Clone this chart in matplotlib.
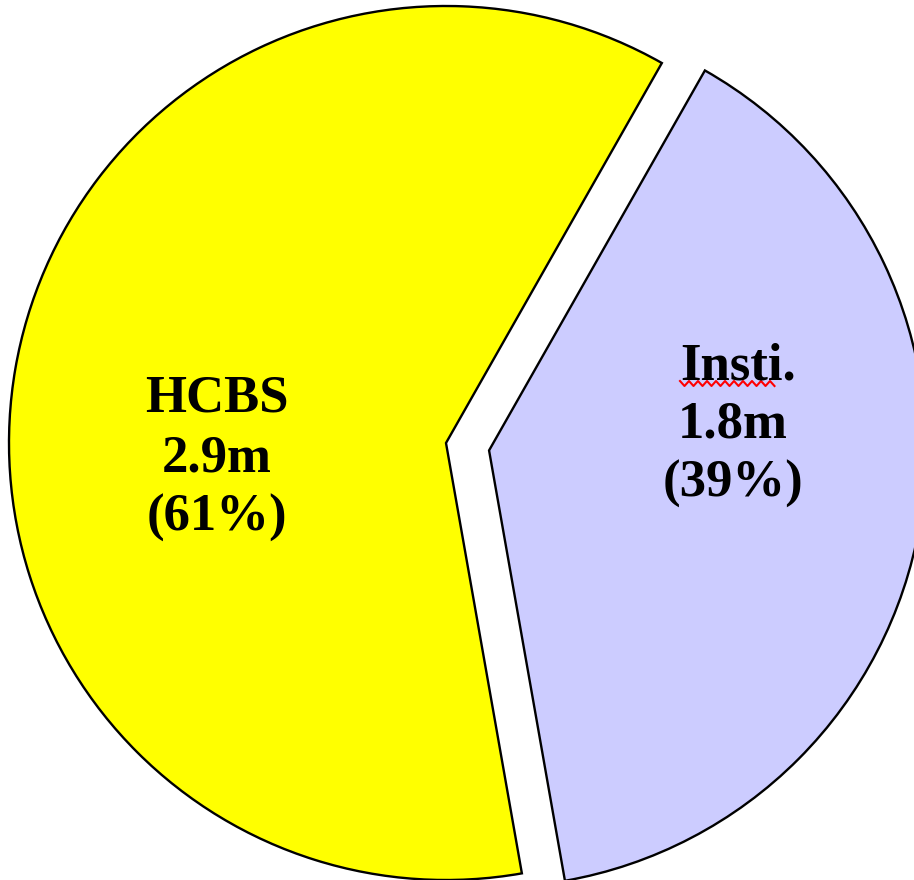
import numpy as np
import matplotlib
matplotlib.use("Agg")
import matplotlib.pyplot as plt

categories = ["HCBS", "Insti."]
amounts = ["2.9m", "1.8m"]
shares = [61, 39]
colors = ["#FFFF00", "#CCCCFF"]
explode = [0.0, 0.1]

W, H = 914, 880
fig = plt.figure(figsize=(W / 100, H / 100), dpi=100)
ax = fig.add_axes([0, 0, 1, 1])

R = 437.0  # pixels per data unit
cx, cy = 446.0, 443.0  # pie centre in pixels (from top)

wedges, _ = ax.pie(shares, colors=colors, explode=explode, startangle=60.4,
                   counterclock=True, radius=1.0,
                   wedgeprops=dict(edgecolor="black", linewidth=1.7, joinstyle="miter"))
ax.axis("off")
ax.set_xlim(-cx / R, (W - cx) / R)
ax.set_ylim(-(H - cy) / R, cy / R)
ax.set_aspect("equal")

font = dict(family=["Liberation Serif", "DejaVu Serif"], fontweight="bold",
            fontsize=38, color="black", ha="center", va="center")

# label line centres, in pixels
label_x = [217, 733]
label_y = [[399, 459, 518], [367, 425, 484]]

def px2data(x, y):
    return (x - cx) / R, (cy - y) / R

for i in range(2):
    lines = [categories[i], amounts[i], f"({shares[i]}%)"]
    for j, t in enumerate(lines):
        xx, yy = px2data(label_x[i] + (5 if (i == 1 and j == 0) else 0), label_y[i][j])
        ax.text(xx, yy, t, **font)

# red spell-check squiggle under "Insti"
sx = np.arange(680, 778, 4.5)
sy = np.where(np.arange(len(sx)) % 2 == 0, 381, 386)
xs, ys = px2data(sx, sy)
ax.plot(xs, ys, color="red", linewidth=1.5, clip_on=False)

fig.savefig("out.png", dpi=100)
